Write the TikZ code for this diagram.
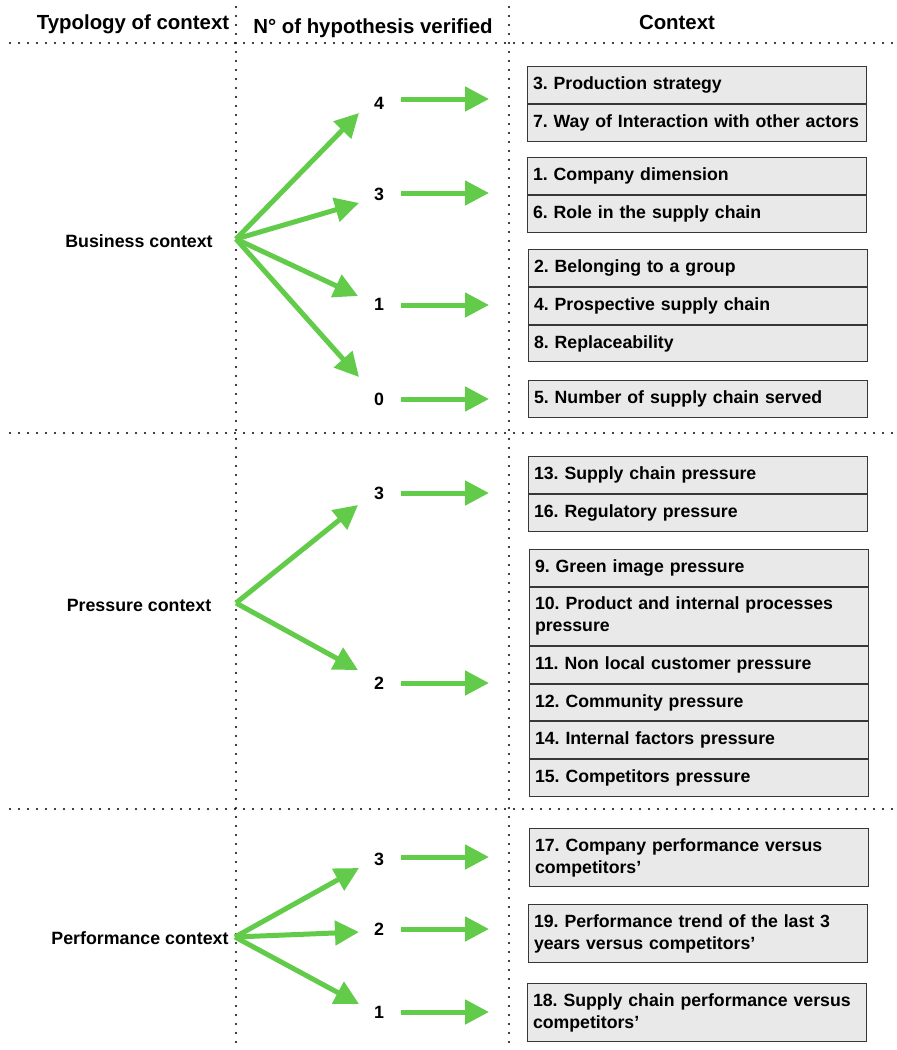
\documentclass[tikz,border=0pt]{standalone}
\usepackage{fontspec}
\setmainfont{Liberation Sans}
\usetikzlibrary{arrows.meta}
\definecolor{arrowgreen}{RGB}{98,204,74}
\definecolor{boxfill}{RGB}{233,233,233}
\definecolor{boxline}{RGB}{55,55,55}
\begin{document}
\frenchspacing
\hyphenpenalty=10000
\exhyphenpenalty=10000
\begin{tikzpicture}[x=1pt,y=-1pt,
  grid/.style={line width=2.2pt, dash pattern=on 0pt off 9pt, line cap=round},
  head/.style={font=\fontsize{20.4}{24}\selectfont\bfseries, inner sep=0pt, anchor=base},
  lbl/.style={font=\fontsize{17.8}{22}\selectfont\bfseries, inner sep=0pt, anchor=base},
  ctx/.style={draw=boxline, line width=1pt, fill=boxfill, anchor=north west,
    text width=328pt, inner xsep=5.5pt, inner ysep=7pt, align=left, minimum height=36.8pt,
    font=\fontsize{17.7}{22}\selectfont\bfseries},
  tall/.style={minimum height=58pt},
  garrow/.style={color=arrowgreen, line width=5pt, -{Triangle[length=24pt,width=24pt]}}]
\useasboundingbox (0,0) rectangle (897,1050);

% column and band separators
\draw[grid] (236,7) -- (236,1050);
\draw[grid] (509,7) -- (509,1050);
\draw[grid] (10,43) -- (895,43);
\draw[grid] (10,433) -- (895,433);
\draw[grid] (10,809) -- (895,809);

% column headings
\node[head] (hType) at (133,29) {Typology of context};
\node[head] (hNum)  at (373,33) {N° of hypothesis verified};
\node[head] (hCtx)  at (677,29) {Context};

% ---------------- business context ----------------
\node[lbl] (business) at (139,247.5) {Business context};
\coordinate (bO) at (236,239);
\node[lbl] (bn4) at (379,109) {4};
\node[lbl] (bn3) at (379,200.5) {3};
\node[lbl] (bn1) at (379,310.5) {1};
\node[lbl] (bn0) at (379,405.5) {0};
\coordinate (bt4) at (359,113);
\coordinate (bt3) at (359,203);
\coordinate (bt1) at (358,296);
\coordinate (bt0) at (359,377);
\foreach \t in {bt4,bt3,bt1,bt0} \draw[garrow] (bO) -- (\t);

\coordinate (bs4) at (401,99);  \coordinate (be4) at (489,99);
\coordinate (bs3) at (401,193); \coordinate (be3) at (489,193);
\coordinate (bs1) at (401,305); \coordinate (be1) at (489,305);
\coordinate (bs0) at (401,399); \coordinate (be0) at (489,399);
\foreach \k in {4,3,1,0} \draw[garrow] (bs\k) -- (be\k);

\node[ctx] (c3) at (527,66) {3. Production strategy};
\node[ctx] (c7) at (c3.south west) {7. Way of Interaction with other actors};
\node[ctx] (c1) at (527,157) {1. Company dimension};
\node[ctx] (c6) at (c1.south west) {6. Role in the supply chain};
\node[ctx] (c2) at (528,249) {2. Belonging to a group};
\node[ctx] (c4) at (c2.south west) {4. Prospective supply chain};
\node[ctx] (c8) at (c4.south west) {8. Replaceability};
\node[ctx] (c5) at (528,380) {5. Number of supply chain served};

% ---------------- pressure context ----------------
\node[lbl] (pressure) at (139,611) {Pressure context};
\coordinate (pO) at (236,603);
\node[lbl] (pn3) at (379,499.5) {3};
\node[lbl] (pn2) at (379,689.5) {2};
\coordinate (pt3) at (358,505);
\coordinate (pt2) at (358,670);
\foreach \t in {pt3,pt2} \draw[garrow] (pO) -- (\t);

\coordinate (ps3) at (401,493); \coordinate (pe3) at (489,493);
\coordinate (ps2) at (401,683); \coordinate (pe2) at (489,683);
\foreach \k in {3,2} \draw[garrow] (ps\k) -- (pe\k);

\node[ctx] (c13) at (528,456) {13. Supply chain pressure};
\node[ctx] (c16) at (c13.south west) {16. Regulatory pressure};
\node[ctx] (c9)  at (529,549) {9. Green image pressure};
\node[ctx,tall] (c10) at (c9.south west) {10. Product and internal processes\\pressure};
\node[ctx] (c11) at (c10.south west) {11. Non local customer pressure};
\node[ctx] (c12) at (c11.south west) {12. Community pressure};
\node[ctx] (c14) at (c12.south west) {14. Internal factors pressure};
\node[ctx] (c15) at (c14.south west) {15. Competitors pressure};

% ---------------- performance context ----------------
\node[lbl] (performance) at (140,944) {Performance context};
\coordinate (fO) at (235,937);
\node[lbl] (fn3) at (379,865) {3};
\node[lbl] (fn2) at (379,935) {2};
\node[lbl] (fn1) at (379,1018.7) {1};
\coordinate (ft3) at (359,868);
\coordinate (ft2) at (359,932);
\coordinate (ft1) at (359,1004);
\foreach \t in {ft3,ft2,ft1} \draw[garrow] (fO) -- (\t);

\coordinate (fs3) at (401,857);  \coordinate (fe3) at (489,857);
\coordinate (fs2) at (401,929);  \coordinate (fe2) at (489,929);
\coordinate (fs1) at (401,1012); \coordinate (fe1) at (489,1012);
\foreach \k in {3,2,1} \draw[garrow] (fs\k) -- (fe\k);

\node[ctx,tall] (c17) at (529,828) {17. Company performance versus\\competitors’};
\node[ctx,tall] (c19) at (528,904) {19. Performance trend of the last 3\\years versus competitors’};
\node[ctx,tall] (c18) at (527,983) {18. Supply chain performance versus\\competitors’};
\end{tikzpicture}
\end{document}
